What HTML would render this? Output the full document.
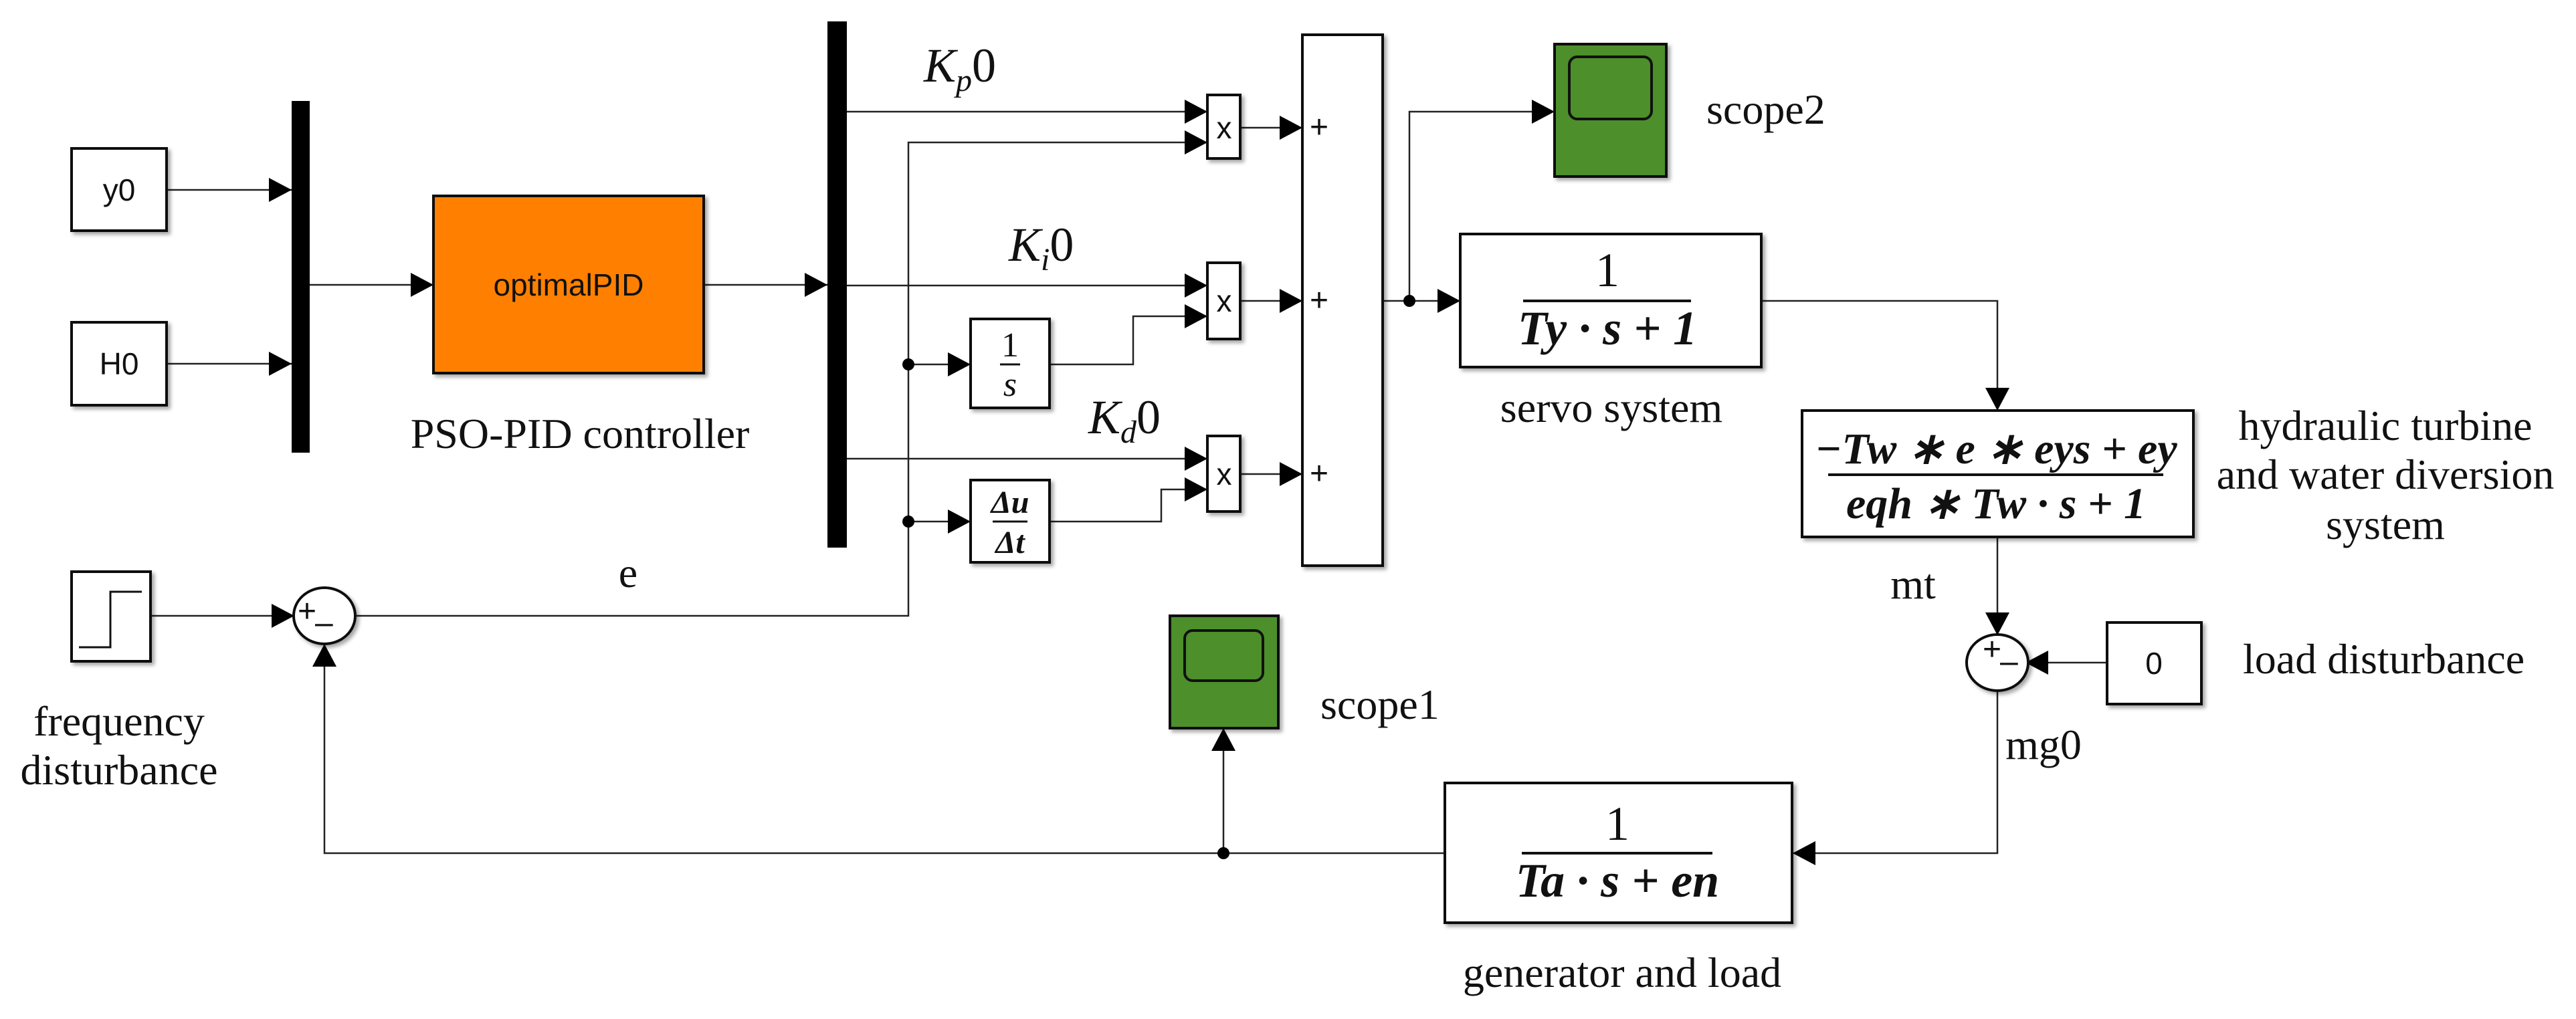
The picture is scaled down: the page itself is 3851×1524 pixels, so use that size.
<!DOCTYPE html>
<html><head><meta charset="utf-8"><style>
html,body{margin:0;padding:0;background:#fff;}
svg{display:block}
.s{font-family:"Liberation Serif",serif;fill:#111}
.a{font-family:"Liberation Sans",sans-serif;fill:#111}
.m{font-family:"Liberation Serif",serif;font-style:italic;fill:#111}
</style></head><body>
<svg width="3851" height="1524" viewBox="0 0 3851 1524" xmlns="http://www.w3.org/2000/svg">
<defs>
<marker id="ar" markerUnits="userSpaceOnUse" markerWidth="36" markerHeight="36" refX="34" refY="18" orient="auto">
<path d="M0,0 L34,18 L0,36 z" fill="#000"/></marker>
<filter id="sh" x="-10%" y="-10%" width="130%" height="130%"><feDropShadow dx="4" dy="4" stdDeviation="3" flood-color="#000" flood-opacity="0.35"/></filter>
</defs>
<g fill="none" stroke="#222" stroke-width="2.5">
<line x1="249" y1="284" x2="436" y2="284" marker-end="url(#ar)"/>
<line x1="249" y1="544" x2="436" y2="544" marker-end="url(#ar)"/>
<line x1="463" y1="426" x2="648" y2="426" marker-end="url(#ar)"/>
<line x1="1052" y1="426" x2="1237" y2="426" marker-end="url(#ar)"/>
<line x1="1266" y1="167" x2="1805" y2="167" marker-end="url(#ar)"/>
<line x1="1266" y1="427" x2="1805" y2="427" marker-end="url(#ar)"/>
<line x1="1266" y1="686" x2="1805" y2="686" marker-end="url(#ar)"/>
<polyline points="530,921 1358,921 1358,213 1805,213" marker-end="url(#ar)"/>
<line x1="1358" y1="545" x2="1451" y2="545" marker-end="url(#ar)"/>
<line x1="1358" y1="780" x2="1451" y2="780" marker-end="url(#ar)"/>
<polyline points="1569,545 1694,545 1694,473 1805,473" marker-end="url(#ar)"/>
<polyline points="1569,780 1736,780 1736,732 1805,732" marker-end="url(#ar)"/>
<line x1="1854" y1="191" x2="1947" y2="191" marker-end="url(#ar)"/>
<line x1="1854" y1="450" x2="1947" y2="450" marker-end="url(#ar)"/>
<line x1="1854" y1="709" x2="1947" y2="709" marker-end="url(#ar)"/>
<line x1="225" y1="921" x2="440" y2="921" marker-end="url(#ar)"/>
<line x1="2067" y1="450" x2="2183" y2="450" marker-end="url(#ar)"/>
<polyline points="2107,450 2107,167 2324,167" marker-end="url(#ar)"/>
<polyline points="2633,450 2986,450 2986,614" marker-end="url(#ar)"/>
<line x1="2986" y1="803" x2="2986" y2="950" marker-end="url(#ar)"/>
<line x1="3150" y1="991" x2="3028" y2="991" marker-end="url(#ar)"/>
<polyline points="2986,1033 2986,1276 2680,1276" marker-end="url(#ar)"/>
<polyline points="2160,1276 485,1276 485,963" marker-end="url(#ar)"/>
<line x1="1829" y1="1276" x2="1829" y2="1089" marker-end="url(#ar)"/>
</g>
<g fill="#000">
<circle cx="1358" cy="545" r="9"/><circle cx="1358" cy="780" r="9"/>
<circle cx="2107" cy="450" r="9"/><circle cx="1829" cy="1276" r="9"/>
</g>
<g stroke="#111" stroke-width="4" fill="#fff" filter="url(#sh)">
<rect x="107" y="222" width="142" height="123"/>
<rect x="107" y="482" width="142" height="124"/>
<rect x="107" y="855" width="118" height="134"/>
<rect x="648" y="293" width="404" height="265" fill="#ff8000"/>
<rect x="1805" y="142" width="49" height="95"/>
<rect x="1805" y="393" width="49" height="114"/>
<rect x="1805" y="652" width="49" height="113"/>
<rect x="1451" y="477" width="118" height="133"/>
<rect x="1451" y="718" width="118" height="123"/>
<rect x="1947" y="52" width="120" height="794"/>
<rect x="2183" y="350" width="450" height="199"/>
<rect x="2694" y="614" width="585" height="189"/>
<rect x="3150" y="931" width="141" height="122"/>
<rect x="2160" y="1171" width="519" height="209"/>
<rect x="2324" y="66" width="167" height="198" fill="#4e8f2c"/>
<rect x="1749" y="921" width="162" height="168" fill="#4e8f2c"/>
<ellipse cx="485" cy="921" rx="46" ry="42"/>
<ellipse cx="2986" cy="991" rx="46" ry="42"/>
</g>
<rect x="436" y="151" width="27" height="526" fill="#000"/>
<rect x="1237" y="32" width="29" height="787" fill="#000"/>
<g fill="none" stroke="#111" stroke-width="4">
<rect x="2346" y="85" width="123" height="93" rx="12"/>
<rect x="1771" y="943" width="117" height="75" rx="12"/>
<polyline points="118,968 165,968 165,885 212,885" stroke-width="3"/>
<line x1="1495" y1="545" x2="1525" y2="545" stroke-width="3"/>
<line x1="1484" y1="780" x2="1536" y2="780" stroke-width="3"/>
<line x1="2277" y1="450" x2="2528" y2="450" stroke-width="4"/>
<line x1="2733" y1="710" x2="3234" y2="710" stroke-width="4"/>
<line x1="2275" y1="1276" x2="2560" y2="1276" stroke-width="4"/>
</g>
<g class="a" font-size="46" text-anchor="middle">
<text x="178" y="300">y0</text>
<text x="178" y="560">H0</text>
<text x="850" y="442">optimalPID</text>
<text x="1830" y="207">x</text>
<text x="1830" y="466">x</text>
<text x="1830" y="725">x</text>
<text x="3220" y="1008">0</text>
</g>
<g class="a" font-size="48">
<text x="1958" y="206">+</text><text x="1958" y="465">+</text><text x="1958" y="724">+</text>
<text x="445" y="930">+</text><text x="471" y="947">–</text>
<text x="2964" y="987">+</text><text x="2990" y="1005">–</text>
</g>
<g class="s" font-size="64" text-anchor="middle">
<text x="867" y="670">PSO-PID controller</text>
<text x="939" y="878">e</text>
<text x="178" y="1100">frequency</text>
<text x="178" y="1173">disturbance</text>
<text x="2409" y="631">servo system</text>
<text x="3566" y="658">hydraulic turbine</text>
<text x="3566" y="731">and water diversion</text>
<text x="3566" y="806">system</text>
<text x="2860" y="895">mt</text>
<text x="3055" y="1135">mg0</text>
<text x="2425" y="1476">generator and load</text>
</g>
<g class="s" font-size="64">
<text x="2551" y="185">scope2</text>
<text x="1974" y="1075">scope1</text>
<text x="3353" y="1007">load disturbance</text>
</g>
<g class="m" font-size="72">
<text x="1381" y="122">K<tspan font-size="48" dy="14">p</tspan><tspan font-style="normal" dy="-14">0</tspan></text>
<text x="1508" y="390">K<tspan font-size="48" dy="14">i</tspan><tspan font-style="normal" dy="-14">0</tspan></text>
<text x="1627" y="648">K<tspan font-size="48" dy="14">d</tspan><tspan font-style="normal" dy="-14">0</tspan></text>
</g>
<g class="m" text-anchor="middle">
<text x="1510" y="533" font-size="52" font-style="normal">1</text>
<text x="1510" y="592" font-size="52">s</text>
<text x="1510" y="767" font-size="48" font-weight="bold">Δu</text>
<text x="1510" y="827" font-size="48" font-weight="bold">Δt</text>
<text x="2403" y="428" font-size="72" font-style="normal">1</text>
<text x="2403" y="515" font-size="72" font-weight="bold">Ty · s + 1</text>
<text x="2984" y="693" font-size="66" font-weight="bold">−Tw ∗ e ∗ eys + ey</text>
<text x="2984" y="775" font-size="66" font-weight="bold">eqh ∗ Tw · s + 1</text>
<text x="2418" y="1256" font-size="72" font-style="normal">1</text>
<text x="2418" y="1341" font-size="72" font-weight="bold">Ta · s + en</text>
</g>
</svg>
</body></html>
